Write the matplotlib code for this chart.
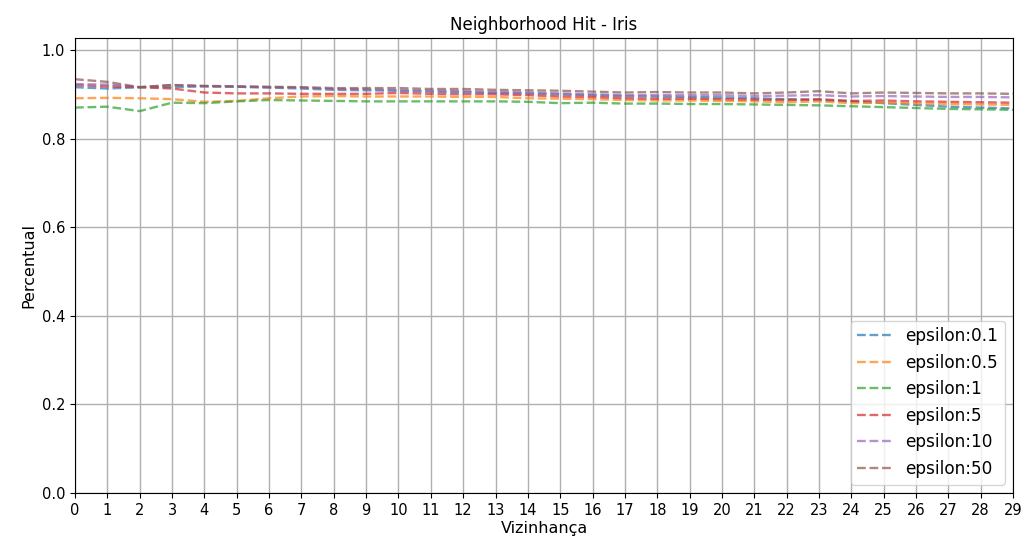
import matplotlib
matplotlib.use('Agg')
import matplotlib.pyplot as plt

# neighborhood sizes
vizinhanca = list(range(30))

# values, one list per epsilon
eps_01 = [0.916, 0.913, 0.916, 0.916, 0.918, 0.917, 0.915, 0.913, 0.910, 0.909,
          0.908, 0.906, 0.905, 0.903, 0.902, 0.900, 0.898, 0.896, 0.895, 0.894,
          0.893, 0.891, 0.889, 0.887, 0.884, 0.880, 0.876, 0.872, 0.870, 0.868]
eps_05 = [0.891, 0.892, 0.891, 0.889, 0.883, 0.885, 0.891, 0.895, 0.896, 0.895,
          0.895, 0.895, 0.894, 0.894, 0.891, 0.890, 0.889, 0.887, 0.886, 0.886,
          0.885, 0.884, 0.882, 0.884, 0.880, 0.881, 0.879, 0.878, 0.877, 0.876]
eps_1 = [0.870, 0.872, 0.862, 0.881, 0.880, 0.884, 0.887, 0.886, 0.885, 0.884,
         0.884, 0.884, 0.884, 0.884, 0.883, 0.880, 0.881, 0.879, 0.879, 0.878,
         0.878, 0.877, 0.876, 0.875, 0.873, 0.871, 0.869, 0.867, 0.866, 0.865]
eps_5 = [0.921, 0.918, 0.916, 0.913, 0.904, 0.902, 0.902, 0.901, 0.901, 0.901,
         0.903, 0.901, 0.900, 0.900, 0.898, 0.895, 0.894, 0.891, 0.890, 0.890,
         0.889, 0.888, 0.887, 0.889, 0.885, 0.886, 0.884, 0.883, 0.882, 0.881]
eps_10 = [0.923, 0.922, 0.916, 0.921, 0.918, 0.917, 0.916, 0.915, 0.912, 0.911,
          0.909, 0.908, 0.907, 0.905, 0.904, 0.902, 0.900, 0.898, 0.898, 0.898,
          0.898, 0.896, 0.897, 0.898, 0.895, 0.896, 0.895, 0.894, 0.894, 0.893]
eps_50 = [0.934, 0.928, 0.916, 0.921, 0.919, 0.918, 0.917, 0.916, 0.914, 0.914,
          0.914, 0.912, 0.912, 0.910, 0.909, 0.908, 0.906, 0.904, 0.905, 0.904,
          0.904, 0.902, 0.904, 0.907, 0.902, 0.904, 0.903, 0.902, 0.902, 0.901]

series = [('epsilon:0.1', eps_01), ('epsilon:0.5', eps_05), ('epsilon:1', eps_1),
          ('epsilon:5', eps_5), ('epsilon:10', eps_10), ('epsilon:50', eps_50)]

fig = plt.figure(figsize=(10.25, 5.47), dpi=100)
ax = fig.add_axes([0.0732, 0.0987, 0.9151, 0.8318])

for label, vals in series:
    ax.plot(vizinhanca, vals, linestyle='--', linewidth=1.7, alpha=0.7, label=label)

ax.set_xticks(vizinhanca)
ax.set_xlim(0, 29)
ax.set_ylim(0, 1.027)
ax.tick_params(labelsize=10.5)
ax.grid(True, linewidth=1)
ax.set_title('Neighborhood Hit - Iris', fontsize=12)
ax.set_xlabel('Vizinhança', fontsize=11.5, labelpad=2)
ax.set_ylabel('Percentual', fontsize=11.5)
ax.legend(loc='lower right', fontsize=12.2)

fig.savefig('out.png', dpi=100)
